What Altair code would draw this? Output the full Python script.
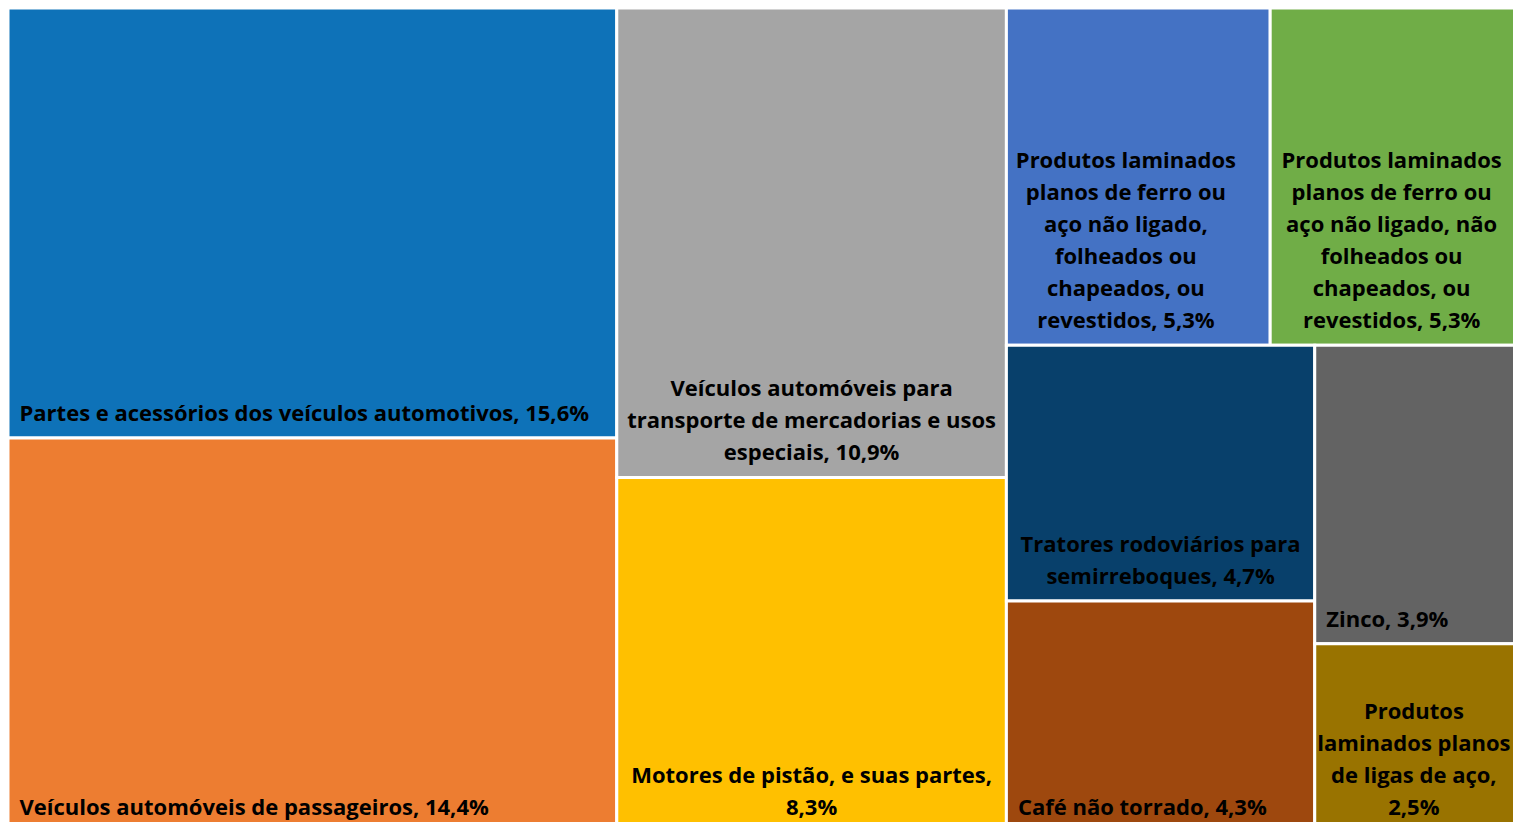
import altair as alt
import pandas as pd

# ---- data ----
names = [
    "Partes e acessórios dos veículos automotivos",
    "Veículos automóveis de passageiros",
    "Veículos automóveis para transporte de mercadorias e usos especiais",
    "Motores de pistão, e suas partes",
    "Produtos laminados planos de ferro ou aço não ligado, folheados ou chapeados, ou revestidos",
    "Produtos laminados planos de ferro ou aço não ligado, não folheados ou chapeados, ou revestidos",
    "Tratores rodoviários para semirreboques",
    "Café não torrado",
    "Zinco",
    "Produtos laminados planos de ligas de aço",
]
values = [15.6, 14.4, 10.9, 8.3, 5.3, 5.3, 4.7, 4.3, 3.9, 2.5]
label_lines = [
    ["Partes e acessórios dos veículos automotivos, 15,6%"],
    ["Veículos automóveis de passageiros, 14,4%"],
    ["Veículos automóveis para", "transporte de mercadorias e usos", "especiais, 10,9%"],
    ["Motores de pistão, e suas partes,", "8,3%"],
    ["Produtos laminados", "planos de ferro ou", "aço não ligado,", "folheados ou", "chapeados, ou", "revestidos, 5,3%"],
    ["Produtos laminados", "planos de ferro ou", "aço não ligado, não", "folheados ou", "chapeados, ou", "revestidos, 5,3%"],
    ["Tratores rodoviários para", "semirreboques, 4,7%"],
    ["Café não torrado, 4,3%"],
    ["Zinco, 3,9%"],
    ["Produtos", "laminados planos", "de ligas de aço,", "2,5%"],
]
colors = ["#0E72B8", "#ED7D31", "#A5A5A5", "#FFC000", "#4472C4",
          "#70AD47", "#08406B", "#9E480E", "#636363", "#997300"]

# ---- layout (squarified treemap) ----
LW, LH = 1526.0, 827.0     # layout extent (slightly larger than view, clipped like the original)
VW, VH = 1505, 814         # view size (fits the page with its 8px margins)


def worst(row, side, scale):
    s = sum(row) * scale
    res = 0
    for v in row:
        a = v * scale
        res = max(res, side * side * a / (s * s), s * s / (side * side * a))
    return res


def squarify(vals, x, y, w, h):
    scale = w * h / sum(vals)
    rects = []
    vals = list(vals)
    while vals:
        side = min(w, h)
        row = [vals[0]]
        i = 1
        while i < len(vals) and worst(row + [vals[i]], side, scale) <= worst(row, side, scale):
            row.append(vals[i])
            i += 1
        s = sum(row) * scale
        if w >= h:
            t = s / h
            yy = y
            for v in row:
                hh = v * scale / t
                rects.append((x, yy, x + t, yy + hh))
                yy += hh
            x += t
            w -= t
        else:
            t = s / w
            xx = x
            for v in row:
                ww = v * scale / t
                rects.append((xx, y, xx + ww, y + t))
                xx += ww
            y += t
            h -= t
        vals = vals[i:]
    return rects


rects = squarify(values, 0.0, 0.0, LW, LH)

rect_rows = []
text_rows = []
LINE_H = 32
PAD_X = 11.5
PAD_B = 17
CHAR_W = 12
for name, val, lines, col, (x0, y0, x1, y1) in zip(names, values, label_lines, colors, rects):
    rect_rows.append(dict(name=name, value=val, color=col, x0=x0, y0=y0, x1=x1, y1=y1))
    n = len(lines)
    if n == 1:
        al = "left"
        tx = x0 + PAD_X
    else:
        al = "center"
        est = max(len(l) for l in lines) * CHAR_W
        vis_right = min(x1, VW)
        tx = min((x0 + vis_right) / 2, x0 + PAD_X + est / 2)
    base = min(y1 - PAD_B, VH - 7)
    for i, line in enumerate(lines):
        ty = base - (n - 1 - i) * LINE_H
        text_rows.append(dict(name=name, line=line, tx=tx, ty=ty, al=al))

rdf = pd.DataFrame(rect_rows)
tdf = pd.DataFrame(text_rows)

xs = alt.Scale(domain=[0, VW], nice=False, zero=False)
ys = alt.Scale(domain=[0, VH], nice=False, zero=False, reverse=True)

rects_layer = alt.Chart(rdf).mark_rect(stroke="white", strokeWidth=3, clip=True).encode(
    x=alt.X("x0:Q", scale=xs, axis=None),
    x2="x1:Q",
    y=alt.Y("y0:Q", scale=ys, axis=None),
    y2="y1:Q",
    color=alt.Color("color:N", scale=None),
    tooltip=["name:N", "value:Q"],
)

txt_common = dict(font="Open Sans", fontSize=22, fontWeight="bold", color="#000000",
                  baseline="alphabetic", clip=True)

text_left = alt.Chart(tdf).transform_filter(alt.datum.al == "left").mark_text(
    align="left", **txt_common).encode(
    x=alt.X("tx:Q", scale=xs, axis=None),
    y=alt.Y("ty:Q", scale=ys, axis=None),
    text="line:N",
)
text_center = alt.Chart(tdf).transform_filter(alt.datum.al == "center").mark_text(
    align="center", **txt_common).encode(
    x=alt.X("tx:Q", scale=xs, axis=None),
    y=alt.Y("ty:Q", scale=ys, axis=None),
    text="line:N",
)

chart = alt.layer(rects_layer, text_left, text_center).properties(
    width=VW, height=VH, padding=0, autosize=alt.AutoSizeParams(type="none"),
    background="white",
).configure_view(stroke=None)

chart.save("out.html", embed_options={"renderer": "svg", "actions": False})
